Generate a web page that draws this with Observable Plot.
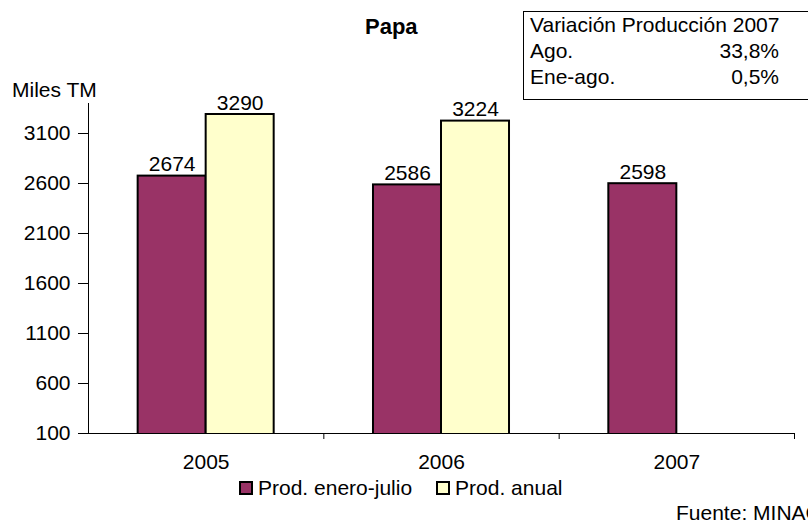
<!DOCTYPE html>
<html>
<head>
<meta charset="utf-8">
<script src="https://cdn.jsdelivr.net/npm/d3@7"></script>
<script src="https://cdn.jsdelivr.net/npm/@observablehq/plot@0.6"></script>
<style>
  html, body { margin: 0; padding: 0; background: #fff; }
  #wrap { position: relative; width: 808px; height: 523px; overflow: hidden; font-family: "Liberation Sans", Arial, sans-serif; color: #000; }
  #chart { position: absolute; left: 0; top: 0; }
  .abs { position: absolute; white-space: nowrap; line-height: 1; }
  #title { left: 365px; top: 16px; font-weight: bold; font-size: 22px; }
  #unit { left: 12px; top: 79px; font-size: 21px; }
  #box { left: 523px; top: 11px; width: 320px; height: 89px; border: 1px solid #000; box-sizing: border-box; font-size: 21px; line-height: 26px; padding: 0 0 0 6px; }
  #box .row { display: flex; width: 249px; justify-content: space-between; }
  #legend { left: 239px; top: 477px; font-size: 21px; display: flex; align-items: center; }
  .sw { display: inline-block; width: 10px; height: 10px; border: 2px solid #000; margin-right: 5px; }
  #source { left: 676px; top: 502px; font-size: 21px; }
</style>
</head>
<body>
<div id="wrap">
  <div id="chart"></div>
  <div id="title" class="abs">Papa</div>
  <div id="unit" class="abs">Miles TM</div>
  <div id="box" class="abs"></div>
  <div id="legend" class="abs"></div>
  <div id="source" class="abs">Fuente: MINAG</div>
</div>
<script>
// ---- data ----
const years = [2005, 2006, 2007];
const prodEneroJulio = [2674, 2586, 2598];
const prodAnual = [3290, 3224, null];
const seriesNames = ["Prod. enero-julio", "Prod. anual"];
const seriesColors = ["#993366", "#FFFFCC"];
const yTicks = [100, 600, 1100, 1600, 2100, 2600, 3100];
const yDomain = [100, 3400];
const boxTitle = "Variación Producción 2007";
const boxLabels = ["Ago.", "Ene-ago."];
const boxValues = ["33,8%", "0,5%"];

// ---- table ----
const halfWidth = 0.289;
const rows = [];
years.forEach((yr, i) => {
  rows.push({year: yr, series: seriesNames[0], value: prodEneroJulio[i], x1: yr - halfWidth, x2: yr});
  if (prodAnual[i] != null) rows.push({year: yr, series: seriesNames[1], value: prodAnual[i], x1: yr, x2: yr + halfWidth});
});
const xBounds = [years[0] - 0.5, ...years.map(y => y + 0.5)];

const plot = Plot.plot({
  width: 808,
  height: 523,
  marginLeft: 88,
  marginRight: 14,
  marginTop: 103,
  marginBottom: 90,
  style: {fontFamily: "Liberation Sans, Arial, sans-serif", fontSize: "21px", color: "#000", background: "transparent"},
  x: {type: "linear", domain: [xBounds[0], xBounds[xBounds.length - 1]]},
  y: {domain: yDomain},
  color: {domain: seriesNames, range: seriesColors},
  marks: [
    Plot.rectY(rows, {x1: "x1", x2: "x2", y: "value", fill: "series", stroke: "#000", strokeWidth: 2, clip: true}),
    Plot.text(rows, {x: d => (d.x1 + d.x2) / 2, y: "value", text: d => String(d.value), lineAnchor: "bottom", dy: -5, fontSize: 21, fill: "#000"}),
    Plot.ruleY([yDomain[0]], {stroke: "#000", strokeWidth: 1}),
    Plot.ruleX([xBounds[0]], {stroke: "#000", strokeWidth: 1}),
    Plot.axisY({ticks: yTicks, tickSize: 10, tickPadding: 8, tickFormat: d => String(d), label: null, fontSize: 21}),
    Plot.axisX({ticks: xBounds.slice(1), tickSize: 6, tickFormat: () => "", label: null}),
    Plot.axisX({ticks: years, tickSize: 0, tickPadding: 21, tickFormat: d => String(d), label: null, fontSize: 21})
  ]
});
document.getElementById("chart").appendChild(plot);

// box
const box = document.getElementById("box");
box.innerHTML = `<div>${boxTitle}</div>` + boxLabels.map((l, i) => `<div class="row"><span>${l}</span><span>${boxValues[i]}</span></div>`).join("");

// legend
const legend = document.getElementById("legend");
legend.innerHTML = seriesNames.map((s, i) =>
  `<span style="display:flex;align-items:center;margin-right:${i === 0 ? 24 : 0}px"><span class="sw" style="background:${seriesColors[i]}"></span>${s}</span>`
).join("");
</script>
</body>
</html>
